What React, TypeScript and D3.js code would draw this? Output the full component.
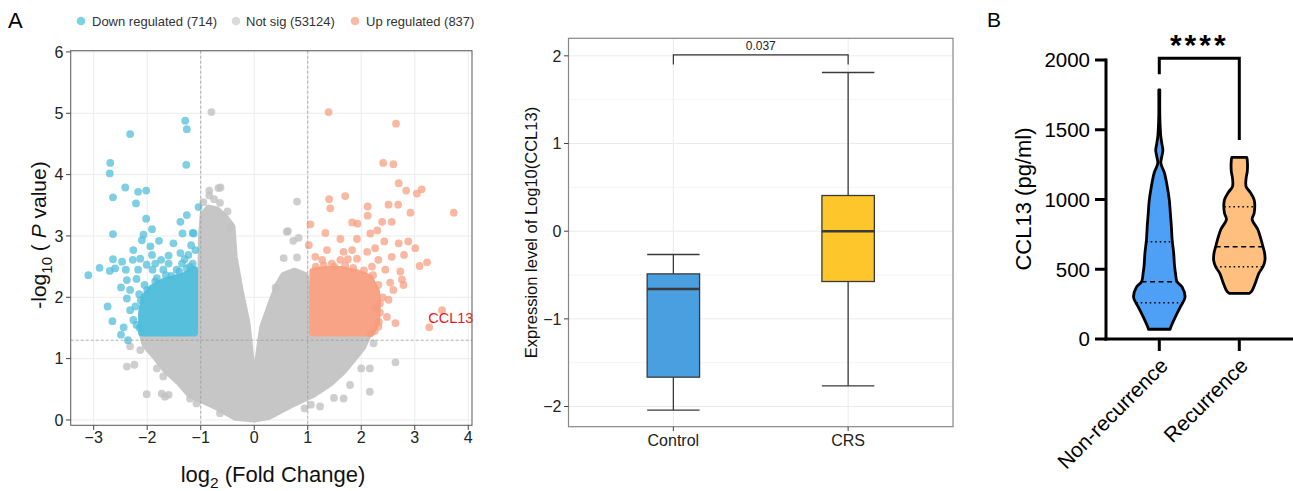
import * as d3 from "d3";

const FONT = "'Liberation Sans', Arial, Helvetica, sans-serif";

// ---------- panel A: volcano ----------
const legendLabels = ["Down regulated (714)", "Not sig (53124)", "Up regulated (837)"];
const legendColors = ["#7ad2e6", "#d9d9d9", "#fbbba3"];
const volcanoXTicks = [-3, -2, -1, 0, 1, 2, 3, 4];
const volcanoYTicks = [0, 1, 2, 3, 4, 5, 6];
const fcCutoff = [-1, 1];
const pCutoff = 1.3;

// outline of the dense "not sig" cloud (log2FC, -log10 P)
const greyCloud: [number, number][] = [
  [0, 0.02], [-0.35, 0.05], [-0.7, 0.22], [-1.2, 0.42], [-1.4, 0.62], [-1.65, 0.82],
  [-1.83, 1.02], [-2.03, 1.22], [-2.08, 1.38], [-1.1, 1.38], [-1.0, 2.0], [-0.98, 3.0],
  [-0.95, 3.35], [-0.85, 3.45], [-0.7, 3.42], [-0.55, 3.3], [-0.42, 3.15], [-0.38, 2.66],
  [-0.27, 2.12], [-0.14, 1.58], [-0.07, 1.0], [0, 0.45], [0.08, 1.0], [0.16, 1.5],
  [0.3, 1.85], [0.45, 2.2], [0.55, 2.35], [0.75, 2.42], [0.95, 2.35], [1.0, 2.0],
  [1.1, 1.38], [2.12, 1.38], [2.03, 1.2], [1.85, 1.0], [1.66, 0.8], [1.41, 0.6],
  [1.1, 0.42], [0.68, 0.25], [0.27, 0.06],
];
const downCloud: [number, number][] = [
  [-2.1, 1.42], [-1.12, 1.42], [-1.12, 2.45], [-1.3, 2.35], [-1.5, 2.3], [-1.7, 2.25],
  [-1.9, 2.15], [-2.05, 2.0], [-2.1, 1.75],
];
const upCloud: [number, number][] = [
  [1.1, 1.42], [2.18, 1.42], [2.28, 1.6], [2.3, 1.9], [2.28, 2.1], [2.15, 2.32],
  [1.9, 2.4], [1.6, 2.45], [1.35, 2.45], [1.1, 2.42],
];
const downPoints: [number, number][] = [
  [-3.1, 2.36], [-2.89, 2.48], [-2.32, 4.66], [-2.69, 4.19], [-2.7, 4.02], [-2.64, 3.63],
  [-2.41, 3.79], [-2.17, 3.72], [-2.02, 3.74], [-2.21, 3.53], [-2.02, 3.28], [-2.64, 3.03],
  [-1.91, 3.11], [-1.29, 4.88], [-1.26, 4.74], [-1.27, 4.16], [-1.04, 3.47], [-1.26, 3.34],
  [-1.38, 3.23], [-1.15, 3.05], [-1.34, 3.04], [-1.13, 3.04], [-2.07, 3.02], [-1.78, 2.92],
  [-1.51, 2.88], [-2.1, 2.93], [-1.94, 2.83], [-2.26, 2.77], [-2.64, 2.62], [-2.7, 2.43],
  [-2.6, 2.47], [-2.47, 2.58], [-2.4, 2.45], [-2.27, 2.61], [-2.13, 2.63], [-1.91, 2.69],
  [-1.74, 2.61], [-1.6, 2.55], [-1.38, 2.72], [-1.23, 2.69], [-1.1, 2.77], [-1.45, 2.45],
  [-1.7, 2.45], [-1.26, 2.47], [-2.38, 2.28], [-2.49, 2.16], [-2.32, 2.12], [-2.74, 1.85],
  [-2.65, 1.61], [-2.44, 1.51], [-2.36, 1.3], [-2.32, 1.79], [-2.26, 1.63], [-2.38, 1.98],
  [-2.01, 2.53], [-1.82, 2.31], [-2.2, 2.3], [-2.15, 2.05], [-2.22, 1.85], [-2.2, 1.55],
  [-1.55, 2.35], [-1.35, 2.55], [-1.15, 2.55], [-1.9, 2.45], [-2.05, 2.2], [-2.49, 1.39],
  [-1.2, 2.5], [-1.4, 2.42], [-1.65, 2.36], [-1.85, 2.26], [-2.0, 2.12], [-2.12, 1.95],
  [-2.14, 1.5], [-1.3, 2.62], [-1.6, 2.68], [-1.85, 2.55], [-2.17, 2.45], [-1.18, 2.85],
];
const upPoints: [number, number][] = [
  [1.39, 5.02], [2.65, 4.83], [2.41, 4.19], [2.6, 4.17], [2.7, 3.86], [2.84, 3.74],
  [3.04, 3.69], [3.13, 3.76], [3.73, 3.38], [1.4, 3.6], [1.42, 3.45], [1.7, 3.65],
  [2.12, 3.48], [2.12, 3.33], [1.05, 3.19], [1.83, 3.22], [1.93, 3.2], [2.51, 3.51],
  [2.69, 3.51], [2.39, 3.23], [2.57, 3.23], [2.92, 3.38], [1.33, 3.05], [1.61, 2.95],
  [1.92, 2.95], [2.17, 3.04], [2.3, 3.09], [2.43, 2.91], [2.7, 2.88], [2.88, 2.91],
  [3.01, 2.8], [2.8, 2.69], [3.23, 2.57], [3.09, 2.51], [1.02, 2.85], [1.14, 2.66],
  [1.36, 2.77], [1.67, 2.74], [1.83, 2.77], [2.11, 2.74], [2.26, 2.8], [2.57, 2.66],
  [1.27, 2.61], [1.61, 2.61], [1.92, 2.63], [2.32, 2.61], [2.73, 2.42], [2.76, 2.29],
  [2.54, 2.24], [2.6, 2.12], [2.51, 1.96], [2.48, 1.68], [2.32, 1.52], [2.64, 1.58],
  [3.51, 1.79], [2.17, 1.41], [2.26, 1.82], [2.79, 2.2], [2.45, 2.45], [2.2, 2.5],
  [1.5, 2.5], [2.4, 2.0], [2.35, 1.75], [3.27, 1.51], [1.15, 2.5], [1.3, 2.52],
  [1.45, 2.55], [1.7, 2.52], [1.85, 2.48], [2.05, 2.44], [2.22, 2.36], [2.32, 2.2],
  [2.35, 1.9], [2.33, 1.6], [2.25, 1.45], [1.75, 2.62],
];
const greyPoints: [number, number][] = [
  [-0.8, 5.02], [-0.84, 3.74], [-0.67, 3.78], [-0.63, 3.79], [-0.84, 3.66], [-0.64, 3.54],
  [-0.45, 3.14], [0.8, 3.56], [0.63, 3.08], [0.73, 2.92], [0.83, 2.97], [0.55, 2.64],
  [0.8, 2.65], [0.4, 2.16], [0.61, 3.07], [-2.38, 0.87], [-2.24, 0.9], [-2.32, 1.2],
  [-2.13, 1.14], [-2.01, 0.42], [-1.73, 0.43], [-1.6, 0.41], [-1.67, 0.38], [-1.2, 0.35],
  [-1.08, 0.27], [-0.64, 0.11], [-1.7, 0.71], [-1.82, 0.84], [2.64, 0.94], [2.0, 0.84],
  [2.16, 0.84], [2.16, 0.46], [1.79, 0.57], [1.67, 0.35], [1.49, 0.36], [1.23, 0.22],
  [1.06, 0.25], [0.94, 0.19], [2.23, 1.25], [-0.95, 3.55], [-0.75, 3.6], [-0.5, 3.4],
];
const labelGene = { name: "CCL13", fc: 3.27, p: 1.51 };

// ---------- panel A: box plot ----------
const boxGroups = ["Control", "CRS"];
const boxLow = [-2.04, -1.764];
const boxQ1 = [-1.665, -0.574];
const boxMedian = [-0.66, 0.0];
const boxQ3 = [-0.487, 0.407];
const boxHigh = [-0.266, 1.81];
const boxFill = ["#4a9fe0", "#fdc62b"];
const boxYTicks = [-2, -1, 0, 1, 2];
const boxPValue = "0.037";

// ---------- panel B: violins ----------
const violinGroups = ["Non-recurrence", "Recurrence"];
const violinFill = ["#4e9ff6", "#ffc07f"];
const violinYTicks = [0, 500, 1000, 1500, 2000];
// [value, relative half width]
const nonRecProfile: [number, number][] = [
  [70, 0.42], [86, 0.45], [160, 0.63], [231, 0.82], [299, 1.0], [372, 0.89], [411, 0.69],
  [471, 0.63], [530, 0.59], [614, 0.56], [710, 0.5], [806, 0.47], [901, 0.43], [996, 0.39],
  [1092, 0.31], [1190, 0.2], [1260, 0.06], [1310, 0.1], [1355, 0.14], [1400, 0.1],
  [1450, 0.06], [1500, 0.04], [1600, 0.02], [1785, 0.02],
];
const recProfile: [number, number][] = [
  [327, 0.38], [339, 0.47], [399, 0.62], [471, 0.76], [518, 0.92], [566, 1.0], [620, 0.98],
  [662, 0.92], [710, 0.85], [785, 0.72], [857, 0.5], [904, 0.58], [996, 0.58], [1050, 0.43],
  [1090, 0.27], [1118, 0.25], [1160, 0.27], [1200, 0.31], [1283, 0.31], [1302, 0.29],
];
const nonRecQuartiles = [260, 411, 697];
const recQuartiles = [518, 662, 948];
const sigLabel = "****";

export default function App() {
  // volcano scales
  const vx = d3.scaleLinear().domain([-3.43, 4.07]).range([70.7, 472]);
  const vy = d3.scaleLinear().domain([-0.087, 6.02]).range([425.3, 50.7]);
  const cloud = d3
    .line<[number, number]>()
    .x((d) => vx(d[0]))
    .y((d) => vy(d[1]))
    .curve(d3.curveLinearClosed);

  // box scales
  const bx = d3.scaleLinear().domain([0.4, 2.6]).range([568.5, 953]);
  const by = d3.scaleLinear().domain([-2.23, 2.2]).range([426.7, 38.3]);
  const boxW = bx(1.15) - bx(0.85);
  const boxMinor = d3.range(-2, 2.01, 0.5).filter((v) => v % 1 !== 0);

  // violin scales
  const wy = d3.scaleLinear().domain([0, 2000]).range([339, 60]);
  const wx = d3.scaleLinear().domain([0, 1]).range([1159.3, 1239.3]);
  const ww = d3.scaleLinear().domain([0, 1]).range([0, 25.7]);
  const profiles = [nonRecProfile, recProfile];
  const quartiles = [nonRecQuartiles, recQuartiles];
  const halfAt = (prof: [number, number][], v: number) =>
    d3.scaleLinear().domain(prof.map((p) => p[0])).range(prof.map((p) => p[1]))(v);

  const tickCol = "#222";

  return (
    <svg
      width={1293}
      height={491}
      style={{ position: "absolute", left: 0, top: 0, background: "#fff" }}
      fontFamily={FONT}
    >
      <rect width={1293} height={491} fill="#fff" />
      {/* ===== A: volcano ===== */}
      <text x={8} y={28.3} fontSize={22}>A</text>
      {legendLabels.map((l, i) => (
        <g key={l}>
          <circle cx={[81, 236, 355][i]} cy={21} r={4.3} fill={legendColors[i]} />
          <text x={[92, 246, 366][i]} y={25.5} fontSize={13} fill="#333">{l}</text>
        </g>
      ))}
      <g>
        {volcanoXTicks.map((t) => (
          <line key={"vgx" + t} x1={vx(t)} x2={vx(t)} y1={50.7} y2={425.3} stroke="#ececec" strokeWidth={1} />
        ))}
        {volcanoYTicks.map((t) => (
          <line key={"vgy" + t} x1={70.7} x2={472} y1={vy(t)} y2={vy(t)} stroke="#ececec" strokeWidth={1} />
        ))}
        <path d={cloud(greyCloud) || ""} fill="#c6c6c6" stroke="#c6c6c6" strokeWidth={7.5} strokeLinejoin="round" />
        <path d={cloud(downCloud) || ""} fill="#56c0dc" stroke="#56c0dc" strokeWidth={7.5} strokeLinejoin="round" />
        <path d={cloud(upCloud) || ""} fill="#f8a386" stroke="#f8a386" strokeWidth={7.5} strokeLinejoin="round" />
        {greyPoints.map((d, i) => (
          <circle key={"g" + i} cx={vx(d[0])} cy={vy(d[1])} r={3.9} fill="#c2c2c2" fillOpacity={0.8} />
        ))}
        {downPoints.map((d, i) => (
          <circle key={"d" + i} cx={vx(d[0])} cy={vy(d[1])} r={3.9} fill="#4ebcd9" fillOpacity={0.72} />
        ))}
        {upPoints.map((d, i) => (
          <circle key={"u" + i} cx={vx(d[0])} cy={vy(d[1])} r={3.9} fill="#f79d7e" fillOpacity={0.72} />
        ))}
        {fcCutoff.map((c) => (
          <line key={"fc" + c} x1={vx(c)} x2={vx(c)} y1={50.7} y2={425.3} stroke="#9a9a9a" strokeWidth={0.8} strokeDasharray="3,2" />
        ))}
        <line x1={70.7} x2={472} y1={vy(pCutoff)} y2={vy(pCutoff)} stroke="#9a9a9a" strokeWidth={0.8} strokeDasharray="3,2" />
        <text x={vx(labelGene.fc) - 1} y={vy(labelGene.p) - 4} fontSize={14.5} fill="#e8171c">{labelGene.name}</text>
        <rect x={70.7} y={50.7} width={472 - 70.7} height={425.3 - 50.7} fill="none" stroke="#666" strokeWidth={1.1} />
        {volcanoXTicks.map((t) => (
          <g key={"vtx" + t}>
            <line x1={vx(t)} x2={vx(t)} y1={425.3} y2={430} stroke="#444" />
            <text x={vx(t)} y={443} fontSize={16} textAnchor="middle" fill={tickCol}>
              {t < 0 ? "\u2212" + Math.abs(t) : t}
            </text>
          </g>
        ))}
        {volcanoYTicks.map((t) => (
          <g key={"vty" + t}>
            <line x1={66} x2={70.7} y1={vy(t)} y2={vy(t)} stroke="#444" />
            <text x={63.5} y={vy(t)} dy="0.36em" fontSize={16} textAnchor="end" fill={tickCol}>{t}</text>
          </g>
        ))}
        <text x={273} y={482} fontSize={22} textAnchor="middle" fill="#111">
          log<tspan fontSize={15.5} dy={6}>2</tspan>
          <tspan dy={-6}> (Fold Change)</tspan>
        </text>
        <text transform="translate(46,235) rotate(-90)" fontSize={21} textAnchor="middle" fill="#111">
          -log<tspan fontSize={15} dy={6}>10</tspan>
          <tspan dy={-6}> ( </tspan>
          <tspan fontStyle="italic">P</tspan>
          <tspan> value)</tspan>
        </text>
      </g>

      {/* ===== A: box plot ===== */}
      <g>
        {boxMinor.map((t) => (
          <line key={"bm" + t} x1={568.5} x2={953} y1={by(t)} y2={by(t)} stroke="#f4f4f4" strokeWidth={1} />
        ))}
        {boxYTicks.map((t) => (
          <line key={"bg" + t} x1={568.5} x2={953} y1={by(t)} y2={by(t)} stroke="#ebebeb" strokeWidth={1} />
        ))}
        {boxGroups.map((g, i) => (
          <line key={"bvg" + g} x1={bx(i + 1)} x2={bx(i + 1)} y1={38.3} y2={426.7} stroke="#ebebeb" strokeWidth={1} />
        ))}
        {boxGroups.map((g, i) => {
          const cx = bx(i + 1);
          return (
            <g key={"box" + g} stroke="#3a3a3a" strokeWidth={1.3}>
              <line x1={cx} x2={cx} y1={by(boxHigh[i])} y2={by(boxQ3[i])} />
              <line x1={cx} x2={cx} y1={by(boxQ1[i])} y2={by(boxLow[i])} />
              <line x1={cx - boxW / 2} x2={cx + boxW / 2} y1={by(boxHigh[i])} y2={by(boxHigh[i])} />
              <line x1={cx - boxW / 2} x2={cx + boxW / 2} y1={by(boxLow[i])} y2={by(boxLow[i])} />
              <rect x={cx - boxW / 2} y={by(boxQ3[i])} width={boxW} height={by(boxQ1[i]) - by(boxQ3[i])} fill={boxFill[i]} />
              <line x1={cx - boxW / 2} x2={cx + boxW / 2} y1={by(boxMedian[i])} y2={by(boxMedian[i])} strokeWidth={2.6} />
            </g>
          );
        })}
        <path
          d={`M${bx(1)},${by(1.9)}V${by(2.01)}H${bx(2)}V${by(1.9)}`}
          fill="none"
          stroke="#333"
          strokeWidth={1.2}
        />
        <text x={(bx(1) + bx(2)) / 2} y={by(2.01) - 4.5} fontSize={12} textAnchor="middle" fill="#222">{boxPValue}</text>
        <rect x={568.5} y={38.3} width={953 - 568.5} height={426.7 - 38.3} fill="none" stroke="#888" strokeWidth={1.2} />
        {boxYTicks.map((t) => (
          <g key={"bty" + t}>
            <line x1={564} x2={568.5} y1={by(t)} y2={by(t)} stroke="#444" />
            <text x={561.5} y={by(t)} dy="0.36em" fontSize={16} textAnchor="end" fill={tickCol}>
              {t < 0 ? "\u2212" + Math.abs(t) : t}
            </text>
          </g>
        ))}
        {boxGroups.map((g, i) => (
          <g key={"btx" + g}>
            <line x1={bx(i + 1)} x2={bx(i + 1)} y1={426.7} y2={431} stroke="#444" />
            <text x={bx(i + 1)} y={446} fontSize={16} textAnchor="middle" fill={tickCol}>{g}</text>
          </g>
        ))}
        <text transform="translate(537,232.5) rotate(-90)" fontSize={16.5} textAnchor="middle" fill="#111">
          Expression level of Log10(CCL13)
        </text>
      </g>

      {/* ===== B: violins ===== */}
      <text x={987} y={27.3} fontSize={21}>B</text>
      <g>
        {violinGroups.map((g, i) => {
          const prof = profiles[i];
          const area = d3
            .area<[number, number]>()
            .y((d) => wy(d[0]))
            .x0((d) => wx(i) - ww(d[1]))
            .x1((d) => wx(i) + ww(d[1]))
            .curve(d3.curveCatmullRom);
          return (
            <g key={"vio" + g}>
              <path d={area(prof) || ""} fill={violinFill[i]} stroke="#000" strokeWidth={2.8} strokeLinejoin="round" />
              {quartiles[i].map((q, k) => {
                const hw = ww(halfAt(prof, q));
                return (
                  <line
                    key={"q" + k}
                    x1={wx(i) - hw}
                    x2={wx(i) + hw}
                    y1={wy(q)}
                    y2={wy(q)}
                    stroke="#000"
                    strokeWidth={1.5}
                    strokeDasharray={k === 1 ? "5,3.5" : "1.5,3"}
                  />
                );
              })}
            </g>
          );
        })}
        <line x1={1106} x2={1106} y1={58.5} y2={340.5} stroke="#000" strokeWidth={3} />
        <line x1={1104.5} x2={1293} y1={339} y2={339} stroke="#000" strokeWidth={3} />
        {violinYTicks.map((t) => (
          <g key={"wty" + t}>
            <line x1={1095} x2={1106} y1={wy(t)} y2={wy(t)} stroke="#000" strokeWidth={3} />
            <text x={1090} y={wy(t)} dy="0.36em" fontSize={20.5} textAnchor="end" fill="#000">{t}</text>
          </g>
        ))}
        {violinGroups.map((g, i) => (
          <g key={"wtx" + g}>
            <line x1={wx(i)} x2={wx(i)} y1={339} y2={351} stroke="#000" strokeWidth={3} />
            <text
              transform={`translate(${wx(i) + 10},${367}) rotate(-45)`}
              fontSize={21}
              textAnchor="end"
              fill="#000"
            >
              {g}
            </text>
          </g>
        ))}
        <text transform="translate(1031,199) rotate(-90)" fontSize={22} textAnchor="middle" fill="#000">
          CCL13 (pg/ml)
        </text>
        <path
          d={`M${wx(0)},${wy(1897)}V${wy(2012)}H${wx(1)}V${wy(1426)}`}
          fill="none"
          stroke="#000"
          strokeWidth={3}
        />
        <text x={(wx(0) + wx(1)) / 2} y={55} fontSize={30} fontWeight="bold" textAnchor="middle" letterSpacing={3}>
          {sigLabel}
        </text>
      </g>
    </svg>
  );
}
